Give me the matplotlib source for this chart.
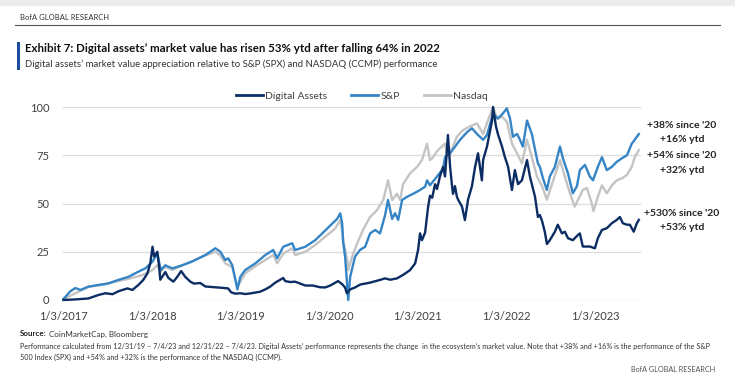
import pandas as pd
import matplotlib.pyplot as plt
from matplotlib.patches import Rectangle
from matplotlib.lines import Line2D

# === DANE (skala 0-100) ===
da_dates = [
    "2017-01-03", "2017-02-21", "2017-04-16", "2017-05-27", "2017-06-25", "2017-07-24",
    "2017-08-17", "2017-09-03", "2017-09-24", "2017-10-14", "2017-11-08", "2017-11-28",
    "2017-12-15", "2017-12-27", "2018-01-05", "2018-01-12", "2018-01-25", "2018-02-02",
    "2018-02-06", "2018-02-27", "2018-03-11", "2018-04-01", "2018-04-17", "2018-05-03",
    "2018-05-20", "2018-06-10", "2018-06-25", "2018-07-21", "2018-08-11", "2018-09-21",
    "2018-10-20", "2018-11-13", "2018-11-25", "2018-12-12", "2019-01-02", "2019-01-22",
    "2019-02-12", "2019-03-25", "2019-04-15", "2019-05-05", "2019-05-26", "2019-06-28",
    "2019-07-06", "2019-07-27", "2019-08-16", "2019-09-27", "2019-10-28", "2019-11-27",
    "2019-12-18", "2020-01-08", "2020-02-09", "2020-02-26", "2020-03-09", "2020-03-16",
    "2020-03-30", "2020-04-19", "2020-05-10", "2020-06-20", "2020-07-31", "2020-08-21",
    "2020-09-11", "2020-10-09", "2020-11-03", "2020-12-02", "2020-12-23", "2021-01-04",
    "2021-01-12", "2021-01-20", "2021-02-02", "2021-02-14", "2021-02-22", "2021-03-03",
    "2021-03-15", "2021-03-23", "2021-04-04", "2021-04-17", "2021-04-25", "2021-05-07",
    "2021-05-16", "2021-05-24", "2021-05-28", "2021-06-05", "2021-06-13", "2021-06-18",
    "2021-07-04", "2021-07-16", "2021-07-29", "2021-08-14", "2021-08-27", "2021-09-08",
    "2021-09-24", "2021-09-29", "2021-10-15", "2021-11-05", "2021-11-09", "2021-11-21",
    "2021-11-29", "2021-12-16", "2021-12-28", "2022-01-10", "2022-01-26", "2022-02-07",
    "2022-02-20", "2022-03-08", "2022-03-29", "2022-04-10", "2022-05-01", "2022-05-13",
    "2022-05-21", "2022-05-30", "2022-06-11", "2022-06-19", "2022-07-01", "2022-07-22",
    "2022-08-03", "2022-08-20", "2022-09-01", "2022-09-14", "2022-10-04", "2022-10-25",
    "2022-11-02", "2022-11-14", "2022-12-13", "2023-01-03", "2023-01-15", "2023-02-01",
    "2023-02-21", "2023-03-14", "2023-04-03", "2023-04-16", "2023-04-28", "2023-05-15",
    "2023-05-27", "2023-06-12", "2023-06-25", "2023-07-03",
]
da_values = [
    0, 0.3, 0.8, 2.6, 3.5, 3.0,
    4.5, 5.2, 6.0, 5.2, 7.8, 10.4,
    13.8, 19, 27.6, 22.5, 25, 16.4,
    10.5, 14.5, 11.5, 9.5, 12, 15,
    12, 9.5, 8.5, 8.8, 7, 6.6,
    6.3, 6.0, 4.0, 3.3, 3.5, 3.1,
    3.4, 4.3, 5.5, 6.9, 9.0, 11.4,
    9.8, 9.3, 9.5, 7.5, 7.5, 6.6,
    6.5, 7.5, 9.8, 8.2, 6.5, 3.5,
    5.5, 6.5, 8.0, 9.0, 10.4, 11.2,
    10.5, 11.2, 13, 15.5, 19, 26,
    34.5, 31, 35, 48, 54, 53,
    60, 57.5, 64, 69, 64, 85.5,
    69, 59, 55, 59, 53.5, 52,
    48.4, 41.4, 52, 59, 69, 76,
    62, 72.5, 79.5, 93, 100, 90,
    86, 79.5, 74, 69, 57, 67.3,
    60, 62, 72.5, 64, 53.5, 43,
    44, 41, 35, 29, 31, 35.4,
    39, 34.5, 35.4, 32, 31, 33.7,
    34.5, 27.7, 27.7, 26.8, 32, 36.3,
    37.2, 39.8, 41.5, 43, 39.8, 39,
    39, 35.4, 39.8, 41.5,
]

spx_dates = [
    "2017-01-03", "2017-01-31", "2017-02-21", "2017-03-14", "2017-04-16", "2017-05-27",
    "2017-07-07", "2017-08-17", "2017-09-28", "2017-11-08", "2017-12-07", "2018-01-05",
    "2018-01-25", "2018-02-08", "2018-02-27", "2018-03-11", "2018-03-28", "2018-05-08",
    "2018-06-18", "2018-07-29", "2018-08-11", "2018-09-21", "2018-10-12", "2018-11-01",
    "2018-11-13", "2018-11-30", "2018-12-21", "2019-01-02", "2019-01-22", "2019-03-05",
    "2019-04-15", "2019-05-18", "2019-06-03", "2019-06-28", "2019-08-04", "2019-08-16",
    "2019-09-27", "2019-11-07", "2019-12-18", "2020-01-16", "2020-02-05", "2020-02-18",
    "2020-02-26", "2020-03-01", "2020-03-09", "2020-03-22", "2020-03-30", "2020-04-19",
    "2020-05-10", "2020-05-31", "2020-06-20", "2020-07-11", "2020-07-31", "2020-08-21",
    "2020-09-02", "2020-09-19", "2020-10-01", "2020-10-14", "2020-10-30", "2020-11-20",
    "2020-12-14", "2021-01-12", "2021-02-02", "2021-02-10", "2021-02-22", "2021-03-23",
    "2021-04-17", "2021-04-25", "2021-05-16", "2021-06-26", "2021-07-25", "2021-08-14",
    "2021-09-04", "2021-09-29", "2021-10-15", "2021-11-09", "2021-11-29", "2021-12-20",
    "2022-01-05", "2022-01-18", "2022-01-30", "2022-02-16", "2022-02-28", "2022-03-12",
    "2022-03-29", "2022-04-18", "2022-05-01", "2022-05-13", "2022-05-21", "2022-06-03",
    "2022-06-19", "2022-07-01", "2022-07-22", "2022-08-12", "2022-08-24", "2022-09-14",
    "2022-10-04", "2022-10-21", "2022-11-02", "2022-11-23", "2022-12-13", "2022-12-26",
    "2023-01-15", "2023-02-01", "2023-02-21", "2023-03-14", "2023-04-03", "2023-04-24",
    "2023-05-15", "2023-06-04", "2023-06-16", "2023-07-03",
]
spx_values = [
    0.5, 4.5, 6.2, 5.2, 6.9, 7.8,
    8.6, 10.4, 12, 14.7, 16.4, 19.9,
    24, 15.5, 18, 17.3, 16.4, 18,
    20, 22.5, 23.3, 26.8, 25, 20.7,
    21.6, 18, 5.5, 12, 15.5, 19,
    23.3, 25.9, 21.6, 27.6, 29.4, 25.9,
    27.6, 31, 36, 39.6, 42, 44.9,
    39.6, 30, 22.5, 0, 12, 22.5,
    26, 27.6, 34.5, 36.3, 34.5, 44,
    51.8, 42, 45, 41.5, 51.8, 53.5,
    55, 57, 58.7, 62, 59.4, 64,
    68, 74, 76, 83, 87, 89,
    86, 83, 85.5, 96.7, 94, 96.7,
    99.3, 94, 84.6, 86, 83, 79.5,
    93, 86, 78, 70.8, 69, 63,
    57, 64, 69, 79.5, 73.4, 65.6,
    55.3, 59, 67.3, 70, 64, 62,
    69, 74, 67.3, 69, 71.6, 73.4,
    75, 81, 83, 86,
]

ndx_dates = [
    "2017-01-03", "2017-02-21", "2017-04-16", "2017-06-13", "2017-08-05", "2017-09-28",
    "2017-11-24", "2018-01-05", "2018-01-25", "2018-02-08", "2018-02-27", "2018-03-28",
    "2018-05-08", "2018-06-18", "2018-07-29", "2018-09-21", "2018-10-12", "2018-11-01",
    "2018-11-30", "2018-12-21", "2019-01-22", "2019-03-05", "2019-04-15", "2019-05-18",
    "2019-06-03", "2019-06-28", "2019-08-04", "2019-08-16", "2019-09-27", "2019-11-07",
    "2019-12-18", "2020-01-28", "2020-02-18", "2020-02-26", "2020-03-01", "2020-03-18",
    "2020-03-22", "2020-04-07", "2020-04-28", "2020-05-22", "2020-06-20", "2020-07-19",
    "2020-08-13", "2020-09-02", "2020-09-19", "2020-10-09", "2020-10-22", "2020-11-03",
    "2020-12-02", "2020-12-31", "2021-01-20", "2021-02-10", "2021-02-22", "2021-03-03",
    "2021-03-27", "2021-04-25", "2021-05-03", "2021-05-24", "2021-06-13", "2021-07-08",
    "2021-08-06", "2021-09-04", "2021-09-29", "2021-10-19", "2021-11-09", "2021-11-25",
    "2021-12-16", "2022-01-05", "2022-01-26", "2022-02-16", "2022-03-08", "2022-03-29",
    "2022-04-18", "2022-05-09", "2022-05-30", "2022-06-19", "2022-07-10", "2022-08-12",
    "2022-09-01", "2022-09-22", "2022-10-12", "2022-10-25", "2022-11-14", "2022-12-01",
    "2022-12-21", "2022-12-28", "2023-01-15", "2023-02-01", "2023-02-21", "2023-03-14",
    "2023-04-03", "2023-04-24", "2023-05-15", "2023-06-04", "2023-06-16", "2023-07-03",
]
ndx_values = [
    0.5, 3.5, 6.9, 7.8, 9.5, 11,
    12.9, 15.5, 18, 14.7, 17.3, 15.5,
    18, 20, 22.5, 25, 23, 19,
    17, 6.9, 13.8, 17.5, 20.7, 23.3,
    19, 24, 26.8, 23.3, 25, 28.5,
    32.8, 37, 41.4, 36, 31, 20.7,
    15.5, 22.5, 29.4, 36.3, 43, 46.6,
    51.8, 62, 51.8, 55, 51.8, 60,
    65.6, 69, 72.5, 81, 72.5, 73.4,
    77.7, 81, 76, 78.6, 84.6, 88,
    90, 91.5, 86, 93, 100, 94,
    95, 92.4, 81, 76, 70.8, 83,
    74, 64, 59, 52, 60, 72.5,
    64, 55.3, 48.4, 51.8, 57, 58,
    50, 46, 53.5, 59.4, 55.3, 59.4,
    62, 63, 64.8, 69, 74, 77.7,
]

tick_dates = ["2017-01-03", "2018-01-03", "2019-01-03", "2020-01-03",
              "2021-01-03", "2022-01-03", "2023-01-03"]
tick_labels = ["1/3/2017", "1/3/2018", "1/3/2019", "1/3/2020",
               "1/3/2021", "1/3/2022", "1/3/2023"]
y_ticks = [0, 25, 50, 75, 100]

# === KOLORY / CZCIONKA ===
navy = "#0b2d63"
blue = "#3585c6"
gray = "#c4c4c4"
txt = "#404040"
plt.rcParams["font.family"] = ["Lato", "DejaVu Sans"]

fig = plt.figure(figsize=(7.35, 3.8), dpi=100)
ax = fig.add_axes([63 / 735, 1 - 300 / 380, (641 - 63) / 735, (300 - 107) / 380])

ax.plot(pd.to_datetime(ndx_dates), ndx_values, color=gray, lw=1.7, clip_on=False, zorder=3)
ax.plot(pd.to_datetime(spx_dates), spx_values, color=blue, lw=1.7, clip_on=False, zorder=4)
ax.plot(pd.to_datetime(da_dates), da_values, color=navy, lw=1.7, clip_on=False, zorder=5)

ax.set_xlim(pd.Timestamp("2017-01-01"), pd.Timestamp("2023-07-12"))
ax.set_ylim(0, 100)
ax.set_yticks(y_ticks)
ax.set_xticks(pd.to_datetime(tick_dates))
ax.set_xticklabels(tick_labels)
ax.tick_params(length=0, labelsize=8, colors=txt, pad=8)
ax.tick_params(axis="y", pad=10)
ax.grid(axis="y", color="#dcdcdc", lw=0.9)
ax.set_axisbelow(True)
for s in ax.spines.values():
    s.set_visible(False)

# === LEGENDA ===
handles = [Line2D([], [], color=navy, lw=2), Line2D([], [], color=blue, lw=2),
           Line2D([], [], color=gray, lw=2)]
fig.legend(handles, ["Digital Assets", "S&P", "Nasdaq"], loc="center",
           bbox_to_anchor=(0.492, 1 - 96 / 380), ncol=3, frameon=False, fontsize=7.5,
           handlelength=2.6, handletextpad=0.2, columnspacing=2.3, labelcolor=txt)

# === ADNOTACJE ===
notes = [("+38% since '20", 125), ("+16% ytd", 139), ("+54% since '20", 156),
         ("+32% ytd", 170.5), ("+530% since '20", 213), ("+53% ytd", 227)]
for t, y in notes:
    fig.text(682 / 735, 1 - y / 380, t, ha="center", va="center", fontsize=7.5,
             fontweight="bold", color="#222222")

# === NAGŁÓWEK ===
fig.patches.append(Rectangle((0, 1 - 6 / 380), 1, 6 / 380, transform=fig.transFigure,
                             color="#ececec", lw=0))
fig.text(20 / 735, 1 - 18 / 380, "BofA GLOBAL RESEARCH", fontsize=5.5, color="#333333",
         va="center")
fig.add_artist(Line2D([15 / 735, 720 / 735], [1 - 25 / 380, 1 - 25 / 380],
                      transform=fig.transFigure, color="#555555", lw=0.8))
fig.patches.append(Rectangle((17 / 735, 1 - 70 / 380), 3 / 735, 28 / 380,
                             transform=fig.transFigure, color="#1a4f9c", lw=0))
fig.text(25 / 735, 1 - 49 / 380,
         "Exhibit 7: Digital assets’ market value has risen 53% ytd after falling 64% in 2022",
         fontsize=8.3, fontweight="bold", color="#111111", va="center")
fig.text(25 / 735, 1 - 64 / 380,
         "Digital assets’ market value appreciation relative to S&P (SPX) and NASDAQ (CCMP) performance",
         fontsize=6.9, color="#333333", va="center")

# === STOPKA ===
fig.text(20 / 735, 1 - 334 / 380, "Source:", fontsize=5.8, fontweight="bold",
         color="#222222", va="center")
fig.text(49 / 735, 1 - 334 / 380, "CoinMarketCap, Bloomberg", fontsize=5.8,
         color="#333333", va="center")
fig.text(20 / 735, 1 - 346 / 380,
         "Performance calculated from 12/31/19 – 7/4/23 and 12/31/22 – 7/4/23. Digital Assets’ performance "
         "represents the change  in the ecosystem’s market value. Note that +38% and +16% is the performance of the S&P",
         fontsize=5.2, color="#333333", va="center")
fig.text(20 / 735, 1 - 357 / 380,
         "500 Index (SPX) and +54% and +32% is the performance of the NASDAQ (CCMP).",
         fontsize=5.2, color="#333333", va="center")
fig.text(715 / 735, 1 - 370 / 380, "BofA GLOBAL RESEARCH", fontsize=5.2,
         color="#555555", ha="right", va="center")

fig.savefig("out.png", dpi=100)
